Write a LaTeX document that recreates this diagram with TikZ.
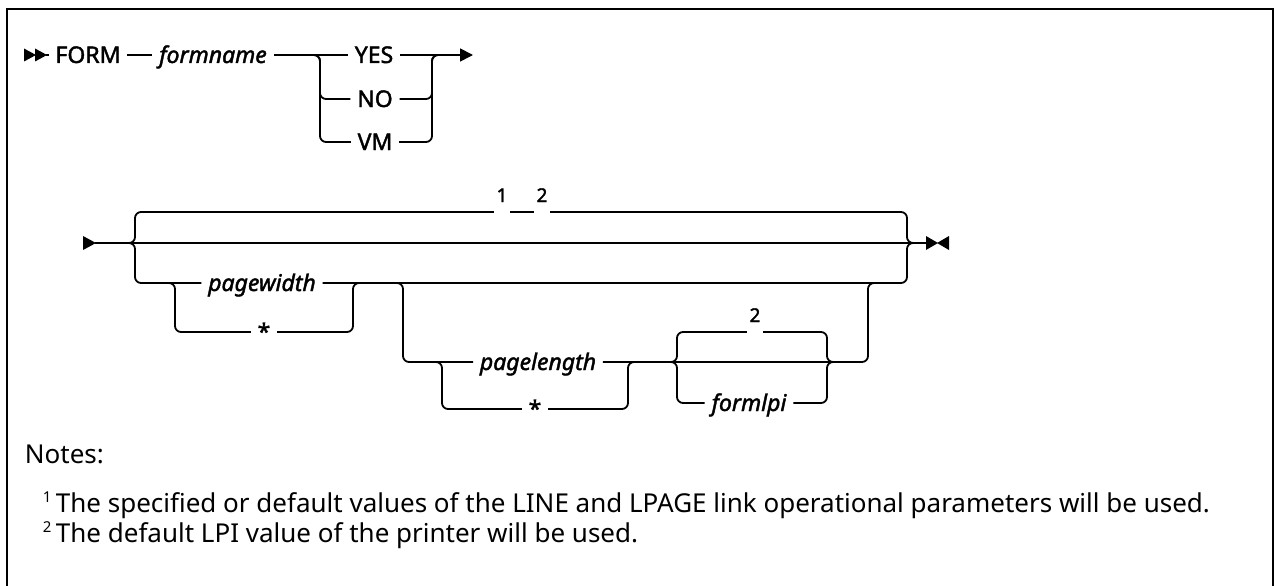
\documentclass[tikz,border=0pt]{standalone}
\usepackage{fontspec}
\setmainfont{Noto Sans}
\newfontfamily\diag[FakeBold=1.8]{Noto Sans}
\usetikzlibrary{arrows.meta,calc}
\begin{document}
\begin{tikzpicture}[x=1pt,y=1pt, line width=1.8pt,
  rail/.style={rounded corners=6pt},
  kw/.style={font=\diag\fontsize{23}{23}\selectfont, inner xsep=6pt, inner ysep=0pt, text height=16pt, text depth=0pt},
  var/.style={font=\diag\itshape\fontsize{23}{23}\selectfont, inner xsep=6pt, inner ysep=0pt, text height=16pt, text depth=0pt},
  fn/.style={font=\diag\fontsize{19}{19}\selectfont, fill=white, inner xsep=3pt, inner ysep=0pt, anchor=base, text depth=12pt},
  note/.style={font=\fontsize{26}{26}\selectfont, anchor=base west, inner sep=0pt},
  sup/.style={font=\fontsize{15}{15}\selectfont, anchor=base west, inner sep=0pt},
  endtip/.style={-{Triangle[length=13pt,width=13pt]}},
  frame/.style={line width=2pt}
]
\useasboundingbox (0,0) rectangle (1274,-586);
% frame
\draw[frame] (7,-590) -- (7,-9.5) -- (1273,-9.5) -- (1273,-590);

% ---------- row 1 ----------
\fill (24,-48.5) -- (36,-55) -- (24,-61.5) -- cycle;
\fill (35,-48.5) -- (47,-55) -- (35,-61.5) -- cycle;
\coordinate (s1) at (46,-55);
\node[kw] (form) at (88,-55) {FORM};
\node[var] (fname) at (213,-55) {formname};
\node[kw] (yes) at (374,-55) {YES};
\node[kw] (no) at (375,-99) {NO};
\node[kw] (vm) at (375,-142) {VM};
\coordinate (b1l) at (320,-55);
\coordinate (b1r) at (432,-55);
\coordinate (e1) at (473,-55);
\draw (s1) -- (form);
\draw (form) -- (fname);
\draw (fname) -- (yes);
\draw[endtip] (yes) -- (e1);
\draw[rail] ($(b1l)+(-10,0)$) -- (b1l) |- (no.west);
\draw[rail] ($(b1l)+(-10,0)$) -- (b1l) |- (vm.west);
\draw[rail] (no.east) -| (b1r) -- ($(b1r)+(10,0)$);
\draw[rail] (vm.east) -| (b1r) -- ($(b1r)+(10,0)$);

% ---------- row 2 ----------
\fill (83,-236) -- (96,-243) -- (83,-250) -- cycle;
\coordinate (s2) at (95,-243);
\coordinate (bl) at (135,-243);
\coordinate (br) at (907,-243);
\coordinate (tl) at (135,-212);
\coordinate (tr) at (907,-212);
\coordinate (bbl) at (135,-283);
\coordinate (bbr) at (907,-283);
\coordinate (e2) at (927,-243);
\fill (926,-236) -- (938,-243) -- (926,-250) -- cycle;
\fill (949,-236) -- (937,-243) -- (949,-250) -- cycle;

% middle path
\draw (s2) -- (e2);
% top (default) path
\draw[rail] ($(bl)+(-10,0)$) -- (bl) -- (tl) -- (tr) -- (br) -- ($(br)+(10,0)$);
\node[fn] (f1) at (502,-202) {1};
\node[fn] (f2) at (542,-202) {2};

% bottom path
\node[var] (pw) at (262,-283) {pagewidth};
\node[kw] (st1) at (264,-332) {*};
\coordinate (pwl) at (175,-283);
\coordinate (pwr) at (353,-283);
\draw[rail] ($(bl)+(-10,0)$) -- (bl) -- (bbl) -- (pw.west);
\draw[rail] (pw.east) -- (bbr) -- (br) -- ($(br)+(10,0)$);
\draw[rail] ($(pwl)+(-10,0)$) -- (pwl) |- (st1.west);
\draw[rail] (st1.east) -| (pwr) -- ($(pwr)+(10,0)$);

% lower optional group
\coordinate (ll) at (403,-283);
\coordinate (llb) at (403,-362);
\node[var] (pl) at (538,-362) {pagelength};
\node[kw] (st2) at (535,-409) {*};
\coordinate (pll) at (442,-362);
\coordinate (plr) at (628,-362);
\draw[rail] ($(ll)+(-10,0)$) -- (ll) -- (llb) -- (pl.west);
\draw[rail] ($(pll)+(-10,0)$) -- (pll) |- (st2.west);
\draw[rail] (st2.east) -| (plr) -- ($(plr)+(10,0)$);

\coordinate (fl) at (677,-362);
\coordinate (fr) at (827,-362);
\coordinate (flt) at (677,-332);
\coordinate (frt) at (827,-332);
\coordinate (rj) at (868,-362);
\coordinate (rjt) at (868,-283);
\node[var] (flp) at (749,-403) {formlpi};
\draw[rail] (pl.east) -- (rj) -- (rjt) -- ($(rjt)+(10,0)$);
\draw[rail] ($(fl)+(-10,0)$) -- (fl) -- (flt) -- (frt) -- (fr) -- ($(fr)+(10,0)$);
\node[fn] (f3) at (755,-322) {2};
\draw[rail] ($(fl)+(-10,0)$) -- (fl) |- (flp.west);
\draw[rail] (flp.east) -| (fr) -- ($(fr)+(10,0)$);

% ---------- notes ----------
\node[note] (notes) at (24,-463) {Notes:};
\node[sup] (m1) at (42,-502) {1};
\node[note] (n1) at (55,-512) {The specified or default values of the LINE and LPAGE link operational parameters will be used.};
\node[sup] (m2) at (42,-532) {2};
\node[note] (n2) at (55,-542) {The default LPI value of the printer will be used.};
\end{tikzpicture}
\end{document}
